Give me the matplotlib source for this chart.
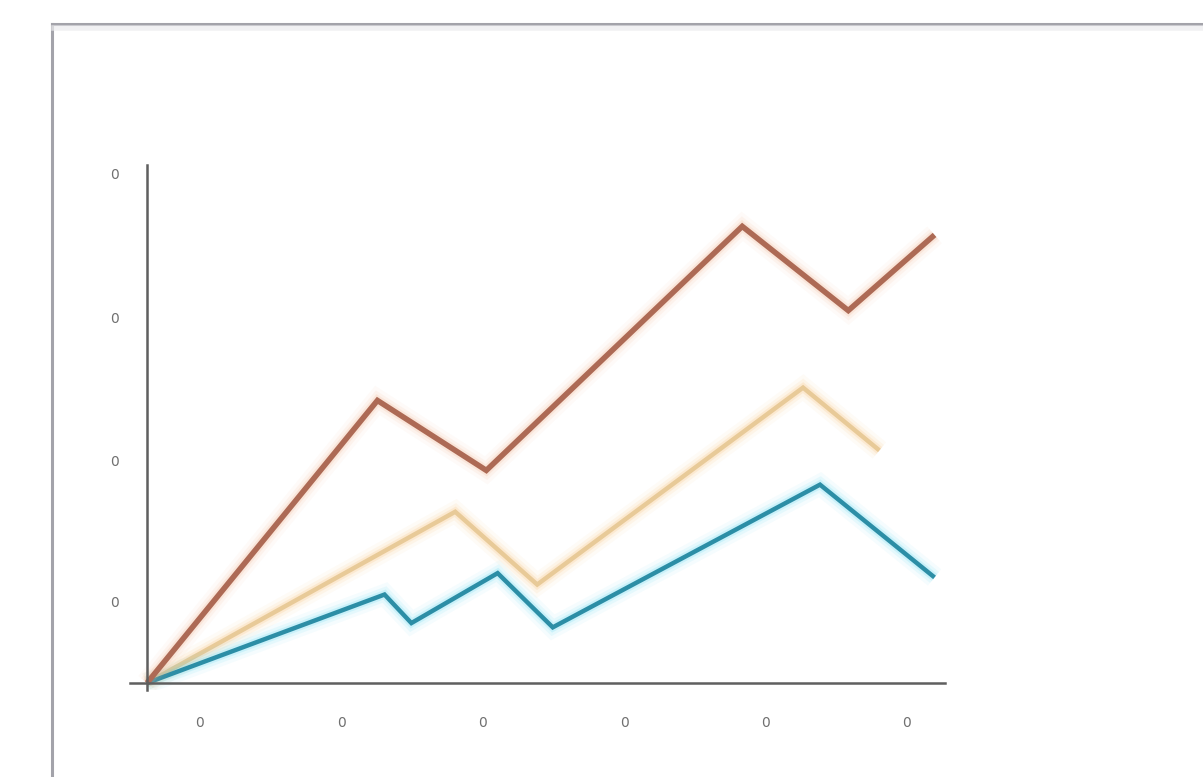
import matplotlib.pyplot as plt
from matplotlib.lines import Line2D

# veriler (eksen birimleri)
kirmizi_x = [0, 1.63, 2.40, 4.21, 4.96, 5.57]
kirmizi_y = [0, 1.98, 1.49, 3.20, 2.61, 3.14]

ten_x = [0, 2.18, 2.76, 4.64, 5.18]
ten_y = [0, 1.20, 0.69, 2.07, 1.63]

mavi_x = [0, 1.68, 1.87, 2.48, 2.87, 4.76, 5.57]
mavi_y = [0, 0.62, 0.42, 0.77, 0.39, 1.39, 0.74]

x_tikler = [0.375, 1.375, 2.375, 3.375, 4.375, 5.375]
x_etiketler = ["0", "0", "0", "0", "0", "0"]
y_tikler = [0.57, 1.56, 2.56, 3.57]
y_etiketler = ["0", "0", "0", "0"]

W, H = 1203, 777
fig = plt.figure(figsize=(W / 100, H / 100), dpi=100)
fig.patch.set_facecolor("white")

# dis cerceve (sag ve alt kenar goruntu disinda)
fig.add_artist(Line2D([52 / W, 1], [1 - 24 / H, 1 - 24 / H], color="#a3a3aa", lw=2.2))
fig.add_artist(Line2D([52 / W, 52 / W], [0, 1 - 24 / H], color="#a3a3aa", lw=2.2))
fig.add_artist(Line2D([54 / W, 1], [1 - 28 / H, 1 - 28 / H], color="#ececee", lw=4, alpha=0.7))

ax = fig.add_axes([130 / W, 1 - 690 / H, (945 - 130) / W, (690 - 165) / H])
ax.set_xlim(-0.12, 5.644)
ax.set_ylim(-0.049, 3.63)
ax.set_facecolor("none")

for s in ["top", "right"]:
    ax.spines[s].set_visible(False)
ax.spines["left"].set_position(("data", 0))
ax.spines["bottom"].set_position(("data", 0))
ax.spines["left"].set_color("#5f5f5f")
ax.spines["bottom"].set_color("#5f5f5f")
ax.spines["left"].set_linewidth(1.8)
ax.spines["bottom"].set_linewidth(1.8)


def parlak_cizgi(x, y, renk, parilti, kalinlik):
    # yumusak parilti icin genis yari saydam katmanlar
    for lw, a in [(kalinlik + 12, 0.05), (kalinlik + 7, 0.09), (kalinlik + 3, 0.16)]:
        ax.plot(x, y, color=parilti, lw=lw, alpha=a, solid_joinstyle="miter",
                solid_capstyle="butt")
    ax.plot(x, y, color=renk, lw=kalinlik, solid_joinstyle="miter", solid_capstyle="butt")


parlak_cizgi(ten_x, ten_y, "#e8ca98", "#f7b25a", 3.2)
parlak_cizgi(mavi_x, mavi_y, "#2c8ea6", "#3fd0f0", 3.2)
parlak_cizgi(kirmizi_x, kirmizi_y, "#ad6a55", "#f2a57a", 4.0)

ax.set_xticks(x_tikler)
ax.set_xticklabels(x_etiketler)
ax.set_yticks(y_tikler)
ax.set_yticklabels(y_etiketler)
ax.tick_params(axis="both", length=0, labelsize=10, labelcolor="#707070")
ax.tick_params(axis="x", pad=24)
ax.tick_params(axis="y", pad=20)

fig.savefig("out.png", dpi=100)
